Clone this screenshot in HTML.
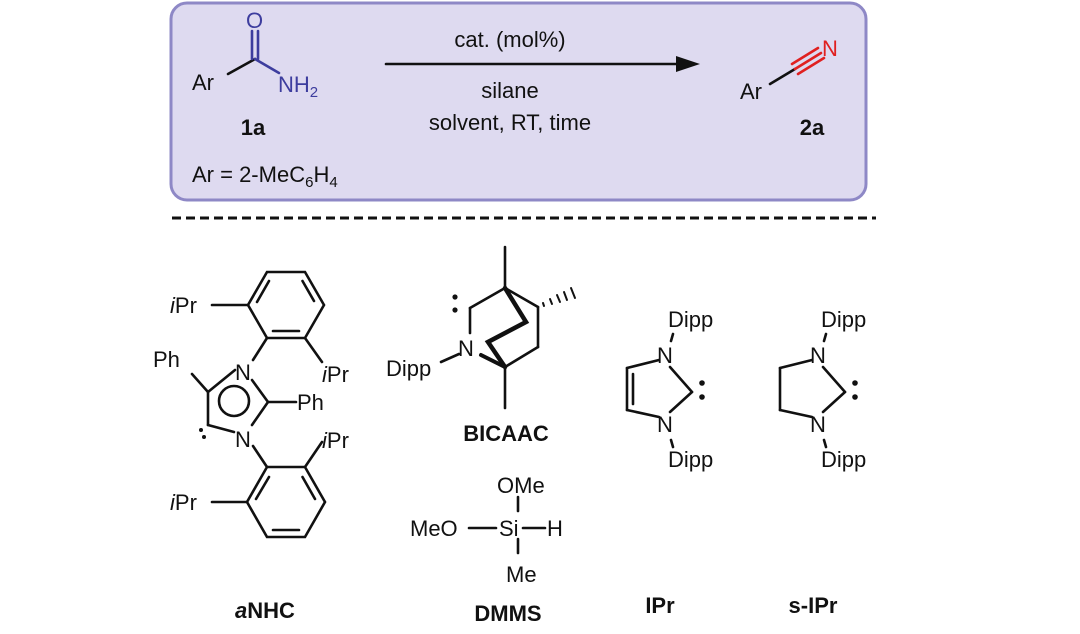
<!DOCTYPE html>
<html><head><style>
html,body{margin:0;padding:0;background:#fff;}
svg{display:block;}
text{font-family:"Liberation Sans",sans-serif;font-size:22px;fill:#111;}
.b{font-weight:bold;}
</style></head><body>
<svg width="1080" height="634" viewBox="0 0 1080 634">
<rect x="171" y="3" width="695" height="197" rx="16" fill="#dedaf0" stroke="#8e88c6" stroke-width="3"/>
<line x1="172" y1="218" x2="876" y2="218" stroke="#111" stroke-width="3" stroke-dasharray="9,5"/>
<g stroke="#111" stroke-width="2.6" fill="none" stroke-linecap="round">
<!-- amide -->
<line x1="228" y1="74" x2="255" y2="59" />
<line x1="255" y1="59" x2="279" y2="73" stroke="#3d3d9e"/>
<line x1="252" y1="31" x2="252" y2="59" stroke="#3d3d9e"/>
<line x1="258" y1="31" x2="258" y2="59" stroke="#3d3d9e"/>
<!-- arrow -->
<line x1="386" y1="64" x2="680" y2="64"/>
<!-- nitrile -->
<line x1="770" y1="84" x2="795" y2="69"/>
<line x1="795" y1="69" x2="821" y2="53" stroke="#e02020"/>
<line x1="792" y1="64" x2="818" y2="48" stroke="#e02020"/>
<line x1="798" y1="74" x2="824" y2="58" stroke="#e02020"/>
<!-- aNHC upper ring -->
<polygon points="324,305 305,272 267,272 248,305 267,338 305,338"/>
<line x1="302.5" y1="281" x2="314" y2="301"/>
<line x1="273" y1="331" x2="299" y2="331"/>
<line x1="257" y1="302" x2="269" y2="281"/>
<line x1="212" y1="305" x2="248" y2="305"/>
<line x1="305" y1="338" x2="322" y2="362"/>
<line x1="267" y1="338" x2="253" y2="360"/>
<!-- imidazolium -->
<line x1="235" y1="370" x2="208" y2="392"/>
<line x1="208" y1="392" x2="208" y2="425"/>
<line x1="208" y1="425" x2="234" y2="432"/>
<line x1="252" y1="380" x2="268" y2="402"/>
<line x1="268" y1="402" x2="252" y2="425"/>
<circle cx="234" cy="401" r="15"/>
<line x1="208" y1="392" x2="192" y2="374"/>
<line x1="268" y1="402" x2="296" y2="402"/>
<line x1="253" y1="446" x2="267" y2="467"/>
<!-- lower ring -->
<polygon points="267,467 305,467 325,502 305,537 267,537 247,502"/>
<line x1="302.5" y1="477" x2="315" y2="499"/>
<line x1="273" y1="530" x2="299" y2="530"/>
<line x1="256" y1="499" x2="269" y2="477"/>
<line x1="305" y1="467" x2="322" y2="442"/>
<line x1="212" y1="502" x2="247" y2="502"/>
<!-- BICAAC -->
<line x1="505" y1="247" x2="505" y2="288"/>
<line x1="505" y1="288" x2="470" y2="308"/>
<line x1="470" y1="308" x2="470" y2="333"/>
<line x1="441" y1="362" x2="459" y2="354"/>
<line x1="505" y1="288" x2="538" y2="307"/>
<line x1="538" y1="307" x2="538" y2="347"/>
<line x1="538" y1="347" x2="505" y2="367"/>
<line x1="505" y1="367" x2="505" y2="408"/>
<polyline points="505,288 526,322 488,342 505,367" stroke-width="4.5"/>
<line x1="481" y1="355" x2="505" y2="367" stroke-width="4"/>
<g stroke-width="2">
<line x1="543" y1="303" x2="544" y2="306"/><line x1="550" y1="299" x2="552" y2="304"/><line x1="557" y1="295" x2="560" y2="302"/><line x1="564" y1="292" x2="567" y2="300"/><line x1="571" y1="288" x2="575" y2="298"/>
</g>
<!-- DMMS -->
<line x1="518" y1="497" x2="518" y2="511"/>
<line x1="518" y1="539" x2="518" y2="553"/>
<line x1="469" y1="528" x2="496" y2="528"/>
<line x1="523" y1="528" x2="545" y2="528"/>
<!-- IPr -->
<line x1="673" y1="334" x2="671" y2="341"/>
<line x1="659" y1="360" x2="627" y2="368"/>
<line x1="627" y1="368" x2="627" y2="410"/>
<line x1="633" y1="374" x2="633" y2="404"/>
<line x1="627" y1="410" x2="659" y2="417"/>
<line x1="670" y1="367" x2="692" y2="392"/>
<line x1="692" y1="392" x2="670" y2="412"/>
<line x1="671" y1="440" x2="673" y2="447"/>
<!-- s-IPr -->
<line x1="826" y1="334" x2="824" y2="341"/>
<line x1="812" y1="360" x2="780" y2="368"/>
<line x1="780" y1="368" x2="780" y2="410"/>
<line x1="780" y1="410" x2="812" y2="417"/>
<line x1="823" y1="367" x2="845" y2="392"/>
<line x1="845" y1="392" x2="823" y2="412"/>
<line x1="824" y1="440" x2="826" y2="447"/>
</g>
<polygon points="700,64 676,56 676,72" fill="#111"/>
<g fill="#111">
<circle cx="455" cy="297" r="2.6"/><circle cx="455" cy="310" r="2.6"/>
<circle cx="201" cy="430" r="2"/><circle cx="204" cy="437" r="2"/>
<circle cx="702" cy="383" r="2.8"/><circle cx="702" cy="397" r="2.8"/>
<circle cx="855" cy="383" r="2.8"/><circle cx="855" cy="397" r="2.8"/>
</g>
<!-- texts top -->
<text x="192" y="90">Ar</text>
<text x="246" y="28" style="fill:#3d3d9e">O</text>
<text x="278" y="92" style="fill:#3d3d9e">NH<tspan font-size="15" dy="5">2</tspan></text>
<text x="253" y="135" class="b" text-anchor="middle">1a</text>
<text x="192" y="182">Ar = 2-MeC<tspan font-size="15" dy="5">6</tspan><tspan dy="-5">H</tspan><tspan font-size="15" dy="5">4</tspan></text>
<text x="510" y="47" text-anchor="middle">cat. (mol%)</text>
<text x="510" y="98" text-anchor="middle">silane</text>
<text x="510" y="130" text-anchor="middle">solvent, RT, time</text>
<text x="740" y="99">Ar</text>
<text x="822" y="56" style="fill:#e02020">N</text>
<text x="812" y="135" class="b" text-anchor="middle">2a</text>
<!-- aNHC labels -->
<text x="170" y="313"><tspan font-style="italic">i</tspan>Pr</text>
<text x="153" y="367">Ph</text>
<text x="235" y="380">N</text>
<text x="322" y="382"><tspan font-style="italic">i</tspan>Pr</text>
<text x="297" y="410">Ph</text>
<text x="235" y="447">N</text>
<text x="322" y="448"><tspan font-style="italic">i</tspan>Pr</text>
<text x="170" y="510"><tspan font-style="italic">i</tspan>Pr</text>
<text x="265" y="618" class="b" text-anchor="middle"><tspan font-style="italic">a</tspan>NHC</text>
<!-- BICAAC -->
<text x="458" y="356">N</text>
<text x="386" y="376">Dipp</text>
<text x="506" y="441" class="b" text-anchor="middle">BICAAC</text>
<!-- DMMS -->
<text x="497" y="493">OMe</text>
<text x="410" y="536">MeO</text>
<text x="499" y="536">Si</text>
<text x="547" y="536">H</text>
<text x="506" y="582">Me</text>
<text x="508" y="621" class="b" text-anchor="middle">DMMS</text>
<!-- IPr -->
<text x="668" y="327">Dipp</text>
<text x="657" y="363">N</text>
<text x="657" y="432">N</text>
<text x="668" y="467">Dipp</text>
<text x="660" y="613" class="b" text-anchor="middle">IPr</text>
<text x="821" y="327">Dipp</text>
<text x="810" y="363">N</text>
<text x="810" y="432">N</text>
<text x="821" y="467">Dipp</text>
<text x="813" y="613" class="b" text-anchor="middle">s-IPr</text>
</svg>
</body></html>
